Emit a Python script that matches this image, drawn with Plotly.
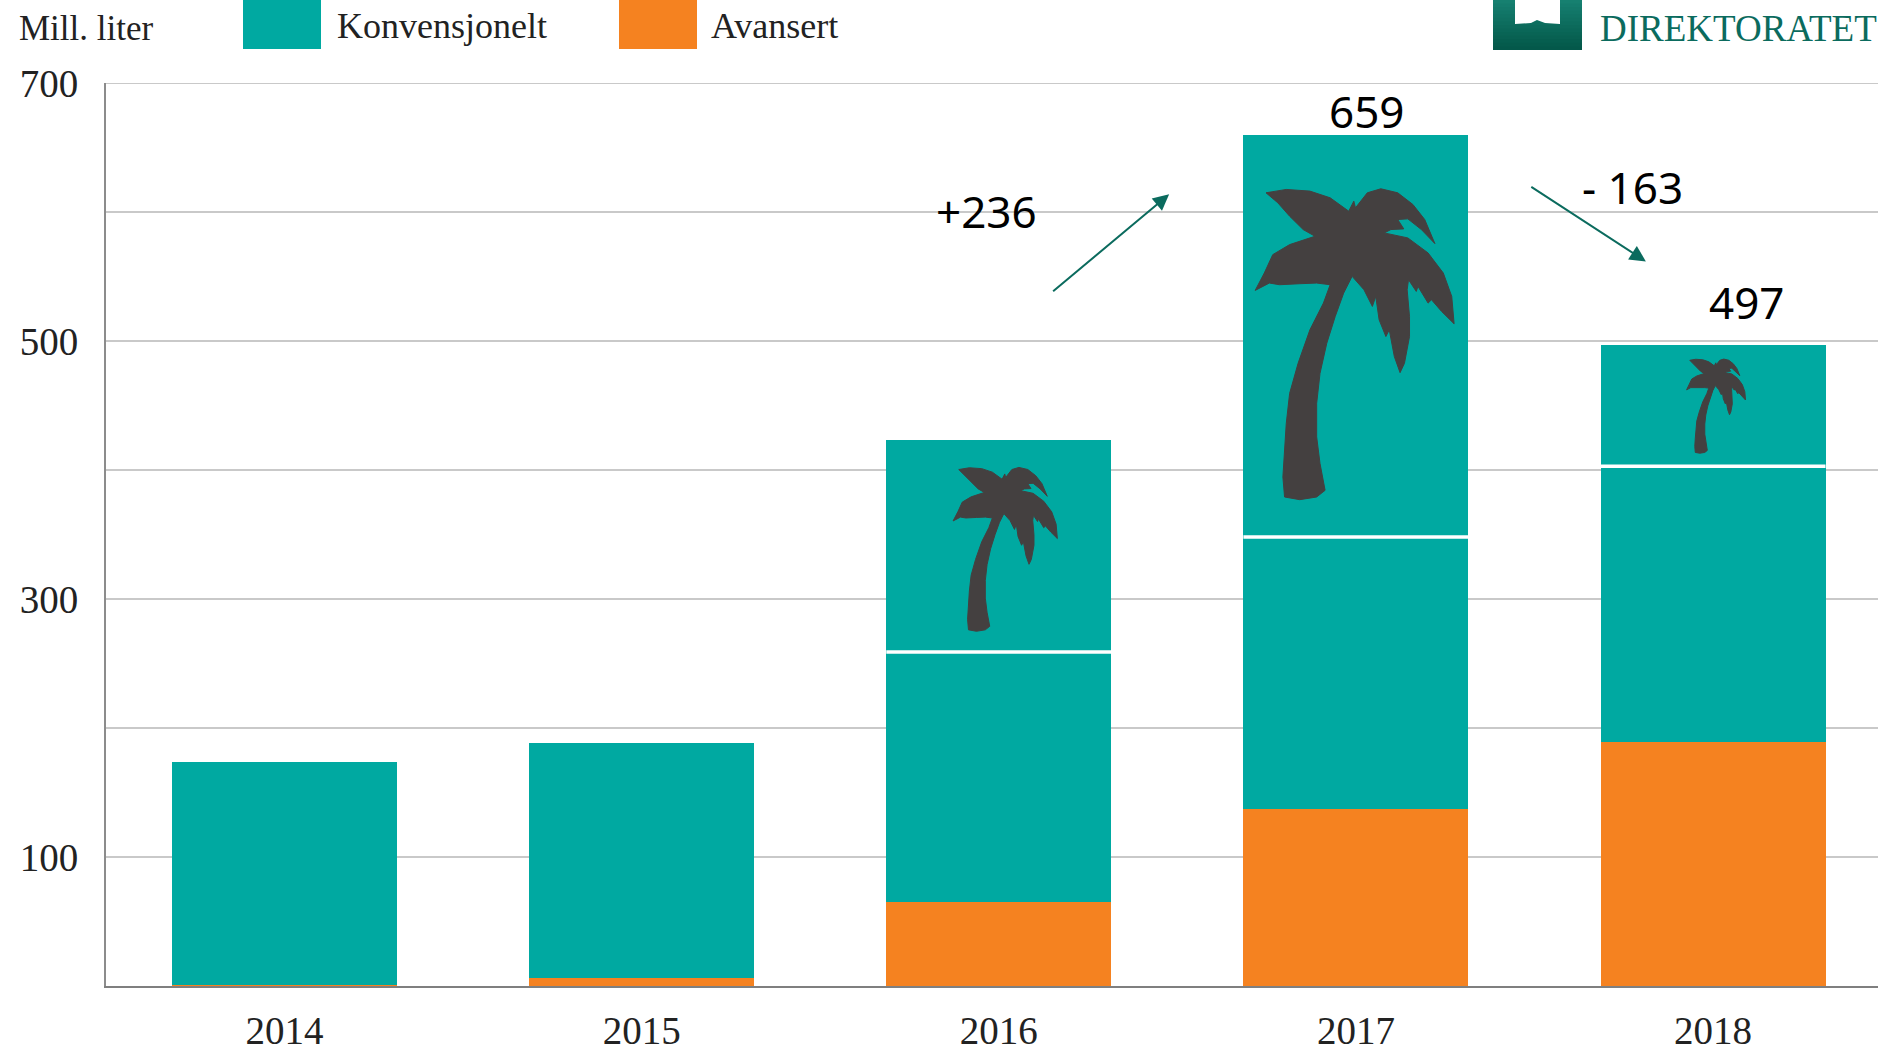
import plotly.graph_objects as go

years = [2014, 2015, 2016, 2017, 2018]
avansert = [1, 6, 65, 137, 189]
konv_lower = [173, 182, 194, 211, 214]
konv_upper = [0, 0, 164, 312, 94]
totals_shown = {2017: "659", 2018: "497"}
y_ticks = list(range(0, 701, 100))
y_labels = ["", "100", "", "300", "", "500", "", "700"]

# palm silhouette outline, normalised to its own box (0..810, 0..1200 drawing units)
palm_outline = [(140,190),(200,180),(270,185),(330,205),(385,245),(400,215),(405,235),(440,190),(480,178),
    (530,190),(575,225),(610,270),(640,342),(600,300),(560,268),(530,270),(548,298),(510,300),(490,310),
    (560,325),(620,370),(665,430),(690,500),(697,582),(660,545),(630,510),(620,520),(590,470),(585,485),
    (562,450),(558,480),(565,560),(565,620),(550,700),(537,728),(520,680),(505,600),(495,620),(475,570),
    (465,500),(455,530),(430,480),(395,440),(370,490),(345,560),(320,640),(300,730),(290,820),(290,920),
    (300,1000),(315,1080),(290,1100),(240,1108),(195,1100),(190,1040),(195,960),(200,880),(210,790),
    (235,700),(270,600),(310,520),(330,465),(290,460),(240,462),(180,465),(150,460),(108,482),(135,430),
    (160,375),(210,345),(285,320),(250,300),(210,260),(175,220),(140,190)]
# palm boxes: x-left, x-right, y-bottom, y-top in axis units
palm_boxes = [(2015.872, 2016.164, 275, 402), (2016.718, 2017.275, 377, 618), (2017.926, 2018.091, 413, 486)]

TEAL = "#00A9A1"
ORANGE = "#F58220"
DARK = "#444040"
LOGO = "#0B6B5E"
SERIF = "Liberation Serif"
SANS = "Noto Sans"
W, H = 1878, 1050
L, R, T, B = 106, 0, 83, 64
BAR_W = 0.63
X_RANGE = [2013.5, 2018.462]

def px(x):
    return (x - L) / (W - L - R)
def py(y):
    return ((H - B) - y) / (H - T - B)

fig = go.Figure()
fig.add_bar(x=years, y=avansert, width=BAR_W, marker=dict(color=ORANGE, line_width=0), name="Avansert")
fig.add_bar(x=years, y=konv_lower, width=BAR_W, marker=dict(color=TEAL, line_width=0), name="Konvensjonelt")
fig.add_bar(x=years, y=konv_upper, width=BAR_W, marker=dict(color=TEAL, line_width=0), name="Konvensjonelt (palme)", showlegend=False)

xs0, xs1 = min(p[0] for p in palm_outline), max(p[0] for p in palm_outline)
ys0, ys1 = min(p[1] for p in palm_outline), max(p[1] for p in palm_outline)
for x0, x1, y0, y1 in palm_boxes:
    fig.add_scatter(
        x=[x0 + (p[0] - xs0) / (xs1 - xs0) * (x1 - x0) for p in palm_outline],
        y=[y1 - (p[1] - ys0) / (ys1 - ys0) * (y1 - y0) for p in palm_outline],
        mode="lines", fill="toself", fillcolor=DARK, line=dict(color=DARK, width=1),
        hoverinfo="skip", showlegend=False)

# logo words, as text marks that may run off the page top like the reference
def dx(p):
    return X_RANGE[0] + px(p) * (X_RANGE[1] - X_RANGE[0])
def dy(p):
    return py(p) * 700
fig.add_scatter(x=[dx(1599)], y=[dy(12)], mode="text", text=["MILJØ"], textposition="top right",
                textfont=dict(size=37, color=LOGO, family=SERIF), cliponaxis=False,
                hoverinfo="skip", showlegend=False)

shapes = [dict(type="line", xref="paper", yref="y", x0=0, x1=1, y0=700, y1=700,
               line=dict(color="#c9c9c9", width=2), layer="below")]
# white separators above the lower stack
for yr, a, k, u in zip(years, avansert, konv_lower, konv_upper):
    if u:
        shapes.append(dict(type="line", xref="x", yref="y", x0=yr - BAR_W / 2, x1=yr + BAR_W / 2,
                           y0=a + k, y1=a + k, line=dict(color="white", width=3.5), layer="above"))
# legend swatches
for x0, x1, c in [(243, 321, TEAL), (619, 697, ORANGE)]:
    shapes.append(dict(type="rect", xref="paper", yref="paper", x0=px(x0), x1=px(x1), y0=py(0), y1=py(49),
                       fillcolor=c, line_width=0))
# logo block with vertical gradient
steps = 14
for i in range(steps):
    t = i / (steps - 1)
    col = "rgb(%d,%d,%d)" % (22 - 18 * t, 128 - 40 * t, 112 - 38 * t)
    shapes.append(dict(type="rect", xref="paper", yref="paper", x0=px(1493), x1=px(1582),
                       y0=py(i * 50 / steps), y1=py(50), fillcolor=col, line_width=0))
shapes.append(dict(type="path", xref="paper", yref="paper", fillcolor="white", line_width=0,
                   path="M %f %f L %f %f L %f %f L %f %f L %f %f L %f %f L %f %f L %f %f Z" % (
                       px(1515), py(0), px(1560), py(0), px(1560), py(24), px(1545), py(23),
                       px(1537), py(20), px(1531), py(23), px(1515), py(24), px(1515), py(0))))
fig.update_layout(shapes=shapes)

def text(x, y, s, size, color="black", family=SANS, xanchor="center", yanchor="middle", ref="x"):
    fig.add_annotation(x=x, y=y, text=s, showarrow=False, xref=ref, yref="y" if ref == "x" else "paper",
                       xanchor=xanchor, yanchor=yanchor, font=dict(size=size, color=color, family=family))

text(2017.03, 678, totals_shown[2017], 44)
text(2018.094, 530, totals_shown[2018], 44)
text(2015.966, 601, "+236", 44)
text(2017.775, 619, "- 163", 44)

text(px(17), py(28), "Mill. liter", 35, "#222222", SERIF, "left", ref="paper")
text(px(335), py(26), "Konvensjonelt", 36, "#222222", SERIF, "left", ref="paper")
text(px(709), py(26), "Avansert", 36, "#222222", SERIF, "left", ref="paper")
text(px(1598), py(28), "DIREKTORATET", 37, LOGO, SERIF, "left", "middle", ref="paper")

for xt, yt, xh, yh in [(2016.148, 537.6, 2016.477, 613.7), (2017.487, 620.2, 2017.812, 561.7)]:
    fig.add_annotation(x=xh, y=yh, ax=xt, ay=yt, xref="x", yref="y", axref="x", ayref="y", text="",
                       showarrow=True, arrowhead=2, arrowsize=1.6, arrowwidth=2, arrowcolor="#0B6B5E")

fig.update_layout(
    width=W, height=H, barmode="stack", showlegend=False,
    margin=dict(l=L, r=R, t=T, b=B, autoexpand=False),
    paper_bgcolor="white", plot_bgcolor="white",
    xaxis=dict(range=X_RANGE, tickvals=years, ticktext=[str(y) for y in years],
               tickfont=dict(size=39, family=SERIF, color="#222222"), ticks="", showgrid=False,
               showline=True, linecolor="#7f7f7f", linewidth=2, zeroline=False, ticklabelstandoff=9),
    yaxis=dict(range=[0, 700], tickvals=y_ticks, ticktext=y_labels,
               tickfont=dict(size=39, family=SERIF, color="#222222"), ticks="", showgrid=True,
               gridcolor="#c9c9c9", gridwidth=2, showline=True, linecolor="#8c8c8c", linewidth=2,
               zeroline=False, ticklabelstandoff=18),
)
fig.write_html("out.html", config=dict(displayModeBar=False),
               post_script="document.body.style.margin='0';document.body.style.overflow='hidden';")
